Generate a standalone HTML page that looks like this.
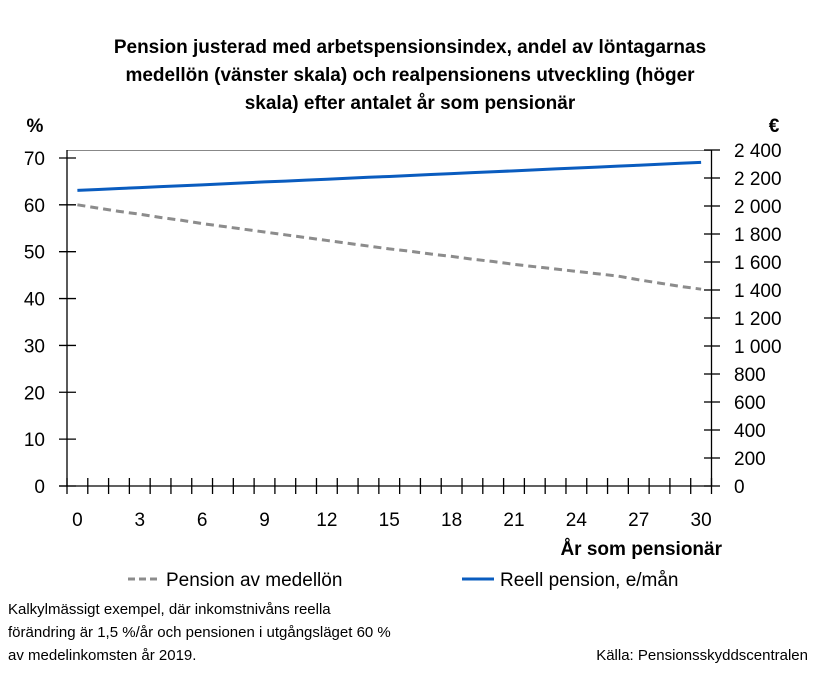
<!DOCTYPE html>
<html><head><meta charset="utf-8"><style>
body{margin:0;background:#fff;font-family:"Liberation Sans",Arial,sans-serif;}
svg text{font-family:"Liberation Sans",Arial,sans-serif;}
</style></head><body>
<svg id="chart" width="821" height="669" viewBox="0 0 821 669" xmlns="http://www.w3.org/2000/svg">
<g font-size="19" font-weight="bold" text-anchor="middle" fill="#000">
<text x="410" y="53">Pension justerad med arbetspensionsindex, andel av löntagarnas</text>
<text x="410" y="81">medellön (vänster skala) och realpensionens utveckling (höger</text>
<text x="410" y="109">skala) efter antalet år som pensionär</text>
</g>
<text x="35" y="132" font-size="19" font-weight="bold" text-anchor="middle">%</text>
<text x="774" y="132" font-size="19" font-weight="bold" text-anchor="middle">€</text>
<line x1="67" y1="150.5" x2="711" y2="150.5" stroke="#888" stroke-width="1"/>
<g id="axes"></g>
<g id="series"></g>
<text x="722" y="555" font-size="19" font-weight="bold" text-anchor="end">År som pensionär</text>
<g>
<g>
<line x1="128" y1="579" x2="160" y2="579" stroke="#8c8c8c" stroke-width="3" stroke-dasharray="7,4"/>
<text x="166" y="586" font-size="19">Pension av medellön</text>
</g>
<g>
<line x1="462" y1="579" x2="494" y2="579" stroke="#0a5cbf" stroke-width="3"/>
<text x="500" y="586" font-size="19">Reell pension, e/mån</text>
</g>
</g>
<g font-size="15">
<text x="8" y="614">Kalkylmässigt exempel, där inkomstnivåns reella</text>
<text x="8" y="637">förändring är 1,5 %/år och pensionen i utgångsläget 60 %</text>
<text x="8" y="660">av medelinkomsten år 2019.</text>
</g>
<text x="808" y="660" font-size="15" text-anchor="end">Källa: Pensionsskyddscentralen</text>
</svg>
<script>
const years = [0,1,2,3,4,5,6,7,8,9,10,11,12,13,14,15,16,17,18,19,20,21,22,23,24,25,26,27,28,29,30];
const pensionShare = [60,59.3,58.6,58,57.3,56.7,56,55.4,54.8,54.2,53.6,53,52.4,51.8,51.2,50.6,50.1,49.5,49,48.4,47.9,47.3,46.8,46.3,45.8,45.3,44.8,44,43.3,42.6,42];
const realPension = [2112,2118,2125,2131,2138,2145,2151,2158,2165,2172,2178,2185,2191,2198,2205,2211,2218,2225,2231,2238,2245,2251,2258,2265,2271,2278,2285,2291,2298,2305,2312];
const leftTicks = [0,10,20,30,40,50,60,70];
const rightTicks = [0,200,400,600,800,1000,1200,1400,1600,1800,2000,2200,2400];
const xLabels = [0,3,6,9,12,15,18,21,24,27,30];
const NS="http://www.w3.org/2000/svg";
const X0=67, X1=711.5, Y0=486, N=years.length, bw=(X1-X0)/N;
const xs=i=>X0+bw*(i+0.5);
const yl=v=>Y0-v*(336/71.7);
const yr=v=>Y0-v*(336/2400);
const axes=document.getElementById('axes'), series=document.getElementById('series');
function mk(tag,attrs,parent){const e=document.createElementNS(NS,tag);for(const k in attrs)e.setAttribute(k,attrs[k]);parent.appendChild(e);return e;}
let e;
e=mk('line',{x1:X0,y1:150,x2:X0,y2:Y0,stroke:'#000','stroke-width':1.3},axes);


e=mk('line',{x1:X1,y1:150,x2:X1,y2:Y0,stroke:'#000','stroke-width':1.3},axes);


e=mk('line',{x1:59,y1:Y0,x2:X1,y2:Y0,stroke:'#000','stroke-width':1.3},axes);


leftTicks.forEach(v=>{
  const y=yl(v);
  e=mk('line',{x1:59,y1:y,x2:76,y2:y,stroke:'#000','stroke-width':1.3},axes);
  
  
  e=mk('text',{x:45,y:y+7,'font-size':19,'text-anchor':'end'},axes);
  e.textContent=v;
  
  
});
rightTicks.forEach(v=>{
  const y=yr(v);
  e=mk('line',{x1:704,y1:y,x2:720,y2:y,stroke:'#000','stroke-width':1.3},axes);
  
  
  e=mk('text',{x:734,y:y+7,'font-size':19},axes);
  e.textContent=v>=1000?Math.floor(v/1000)+'\u00a0'+String(v%1000).padStart(3,'0'):String(v);
  
  
});
for(let i=0;i<=N;i++){
  const x=X0+bw*i;
  e=mk('line',{x1:x,y1:Y0-8,x2:x,y2:Y0+8,stroke:'#000','stroke-width':1.3},axes);
  
  
}
xLabels.forEach(v=>{
  const i=years.indexOf(v);
  e=mk('text',{x:xs(i),y:526,'font-size':19,'text-anchor':'middle'},axes);
  e.textContent=v;
  
  
});
e=mk('polyline',{points:pensionShare.map((v,i)=>xs(i)+','+yl(v)).join(' '),fill:'none',stroke:'#8c8c8c','stroke-width':3,'stroke-dasharray':'8,5'},series);


e=mk('polyline',{points:realPension.map((v,i)=>xs(i)+','+yr(v)).join(' '),fill:'none',stroke:'#0a5cbf','stroke-width':3},series);


</script>
</body></html>
